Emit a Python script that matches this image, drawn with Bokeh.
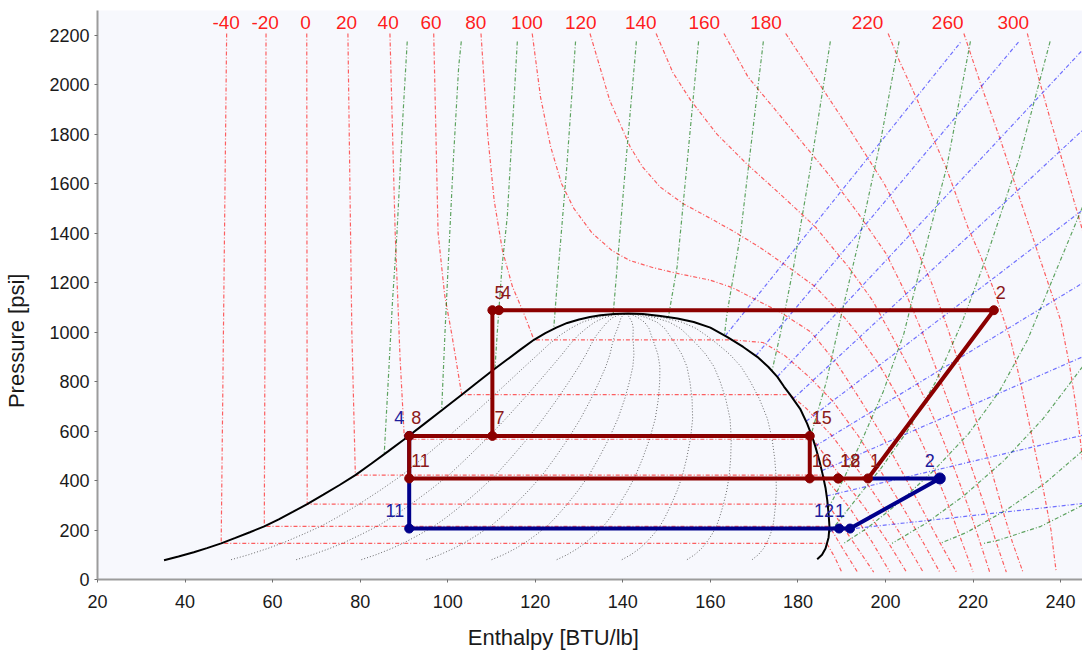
import numpy as np
from bokeh.plotting import figure
from bokeh.models import Range1d, FixedTicker
from bokeh.core.properties import value
from bokeh.embed import file_html
from bokeh.resources import INLINE

FONT = "Liberation Sans"
NBSP = "\u00a0"

# ---- axes ---------------------------------------------------------------
x_ticks = [20, 40, 60, 80, 100, 120, 140, 160, 180, 200, 220, 240]
y_ticks = [0, 200, 400, 600, 800, 1000, 1200, 1400, 1600, 1800, 2000, 2200]

# ---- saturation dome (h in BTU/lb, p in psi) ----------------------------
sat_liq_h = [35.2, 38.5, 42.0, 45.0, 48.25, 51.5, 54.8, 58.1, 61.4, 64.6, 67.9, 71.6,
             75.3, 78.9, 82.6, 86.3, 90.1, 94.5, 98.8, 103.2, 106.8, 110.3, 113.5,
             116.6, 119.7, 122.3, 124.8, 127.3, 130.0, 132.5, 134.9, 138.0, 141.2]
sat_liq_p = [78, 93, 110, 127, 146, 168, 191, 215, 243, 273, 305, 343,
             382, 422, 469, 517, 567, 627, 686, 747, 797, 846, 888,
             929, 969, 996, 1018, 1037, 1051, 1061, 1068, 1073, 1075]
sat_vap_h = [141.2, 144.6, 148.6, 152.5, 156.2, 160.0, 163.9, 167.5, 170.7, 173.2, 175.3,
             176.8, 178.2, 180.5, 182.1, 183.2, 184.0, 184.9, 185.6, 186.3, 186.7, 187.0,
             187.2, 187.0, 186.3, 185.5, 184.4]
sat_vap_p = [1075, 1073, 1065, 1055, 1041, 1018, 980, 940, 900, 860, 819,
             780, 747, 690, 630, 580, 536, 480, 428, 370, 320, 265,
             213, 170, 125, 100, 82]

# vapour quality lines
qualities = [0.1, 0.2, 0.3, 0.4, 0.5, 0.6, 0.7, 0.8, 0.9]
quality_p = [80, 100, 125, 150, 180, 215, 250, 300, 360, 420, 490, 570, 650, 730,
             800, 860, 910, 950, 985, 1015, 1040, 1058, 1070, 1075]

# ---- isotherms (deg F) --------------------------------------------------
t_m40_h = [49.5, 48.25, 186.6, 188.4, 190.0]
t_m40_p = [2207, 146, 146, 90, 30]
t_m20_h = [58.5, 58.1, 187.2, 190.4, 193.6]
t_m20_p = [2207, 215, 215, 120, 30]
t_0_h = [67.8, 67.9, 186.8, 192.3, 197.3]
t_0_p = [2207, 305, 305, 160, 30]
t_20_h = [77.2, 78.1, 78.9, 185.7, 191.8, 197.0, 201.0]
t_20_p = [2207, 1000, 422, 422, 290, 150, 30]
t_40_h = [86.8, 88.0, 89.1, 90.1, 183.4, 189.0, 195.3, 200.6, 204.8]
t_40_p = [2207, 1400, 900, 567, 567, 435, 290, 150, 30]
t_60_h = [96.8, 97.8, 99.3, 100.9, 103.2, 178.2, 182.0, 187.8, 194.0, 199.6, 204.6, 208.6]
t_60_p = [2207, 1400, 1150, 994, 747, 747, 690, 580, 435, 290, 150, 30]
t_80_h = [107.6, 109.1, 110.6, 112.5, 114.8, 117.4, 119.7, 164.9, 172.0, 177.0, 182.5,
          188.0, 193.8, 199.0, 204.0, 208.6, 212.4]
t_80_p = [2207, 1803, 1533, 1330, 1183, 1075, 969, 969, 958, 905, 820,
          720, 580, 435, 290, 150, 30]
t_100_h = [119.3, 121.2, 123.5, 126.0, 128.8, 133.0, 137.5, 141.5, 147.0, 153.0, 160.0,
           165.0, 170.5, 176.0, 183.0, 189.0, 194.3, 199.3, 203.8, 208.2, 212.4, 216.2]
t_100_p = [2207, 1950, 1750, 1600, 1500, 1400, 1330, 1290, 1260, 1235, 1210,
           1180, 1130, 1080, 1000, 870, 725, 580, 435, 290, 150, 30]
t_120_h = [132.5, 137.0, 141.7, 144.5, 148.5, 153.7, 161.0, 166.0, 171.5, 178.0, 184.0,
           190.5, 193.3, 198.5, 203.3, 207.6, 211.3, 214.6, 217.5, 220.0]
t_120_p = [2207, 1937, 1748, 1668, 1587, 1520, 1450, 1400, 1340, 1260, 1183,
           1061, 1000, 870, 725, 580, 435, 290, 150, 30]
t_140_h = [147.6, 151.4, 155.5, 161.5, 168.3, 175.8, 184.0, 191.5, 197.0, 201.0, 205.0,
           209.2, 212.8, 216.0, 219.0, 221.6, 223.8]
t_140_p = [2207, 2050, 1937, 1800, 1680, 1560, 1425, 1264, 1129, 1000, 870,
           725, 580, 435, 290, 150, 30]
t_160_h = [163.1, 168.6, 174.9, 181.2, 187.5, 193.8, 200.1, 204.8, 208.4, 211.2, 214.2,
           217.2, 220.0, 222.8, 225.3, 227.6]
t_160_p = [2207, 2031, 1897, 1762, 1627, 1479, 1318, 1150, 1000, 870, 725,
           580, 435, 290, 150, 30]
t_180_h = [177.2, 185.0, 192.5, 199.7, 205.5, 210.5, 214.5, 216.8, 219.3, 221.8, 224.3,
           226.6, 229.0, 231.4]
t_180_p = [2207, 2000, 1800, 1600, 1400, 1200, 1000, 870, 725, 580, 435, 290, 150, 30]
t_220_h = [200.6, 203.1, 207.3, 211.1, 213.8, 218.8, 221.8, 224.8, 228.6, 230.8, 232.6,
           234.4, 236.2, 237.8, 239.0]
t_220_p = [2207, 2099, 1937, 1775, 1667, 1425, 1304, 1169, 967, 800, 650, 500, 350, 200, 30]
t_260_h = [217.9, 221.7, 226.3, 230.8, 235.4, 240.0, 242.0, 243.3, 244.4, 245.3, 245.9,
           246.3, 246.6]
t_260_p = [2207, 2005, 1775, 1533, 1290, 1048, 870, 725, 580, 435, 290, 150, 30]
t_300_h = [232.4, 234.7, 237.7, 240.8, 243.9, 247.0, 250.5]
t_300_p = [2207, 2045, 1856, 1668, 1479, 1290, 1048]

isotherm_labels = ["-40", "-20", "0", "20", "40", "60", "80", "100", "120", "140",
                   "160", "180", "220", "260", "300"]
isotherm_label_h = [49.4, 58.3, 67.5, 76.9, 86.4, 96.2, 106.4, 118.1, 130.4, 144.1,
                    158.6, 172.7, 195.9, 214.2, 229.2]

# ---- isentropes ----------------------------------------------------------
s1_h = [90.75, 89.8, 88.4, 87.4, 86.4, 85.5]
s1_p = [2175, 1884, 1398, 1129, 800, 509]
s2_h = [103.1, 102.5, 101.3, 100.2, 99.4, 98.6]
s2_p = [2175, 2072, 1700, 1304, 1008, 680]
s3_h = [115.9, 114.7, 113.6, 112.4, 111.3, 110.8]
s3_p = [2175, 1803, 1466, 1264, 994, 855]
s4_h = [129.2, 127.2, 125.3, 124.2]
s4_p = [2175, 1668, 1264, 1012]
s5_h = [143.1, 140.6, 138.7, 137.8]
s5_p = [2175, 1668, 1264, 1074]
s6_h = [157.3, 154.6, 152.4, 150.8, 150.4]
s6_p = [2175, 1668, 1264, 1102, 1060]
s7_h = [172.1, 169.6, 166.9, 163.8, 163.2]
s7_p = [2175, 1803, 1398, 1075, 987]
s8_h = [187.4, 182.9, 179.0, 176.0, 174.1]
s8_p = [2175, 1668, 1264, 994, 845]
s9_h = [203.1, 198.9, 194.3, 189.8, 186.5, 183.0]
s9_p = [2175, 1775, 1398, 1061, 800, 585]
s10_h = [219.4, 214.0, 208.0, 204.2, 199.5, 194.8, 190.8, 187.9, 186.9]
s10_p = [2175, 1668, 1264, 994, 760, 570, 420, 320, 290]
s11_h = [237.6, 230.5, 223.0, 217.5, 211.5, 205.0, 199.0, 193.5, 189.5, 187.2]
s11_p = [2175, 1700, 1300, 1040, 800, 600, 450, 330, 240, 190]
s12_h = [245.0, 232.4, 226.0, 219.0, 211.0, 203.0, 196.0, 190.5]
s12_p = [1506, 967, 760, 590, 440, 310, 210, 146]
s13_h = [245.0, 236.0, 227.0, 218.0, 209.5, 201.5]
s13_p = [860, 650, 480, 340, 230, 146]
s14_h = [245.0, 236.5, 227.5, 218.5, 212.5]
s14_p = [520, 390, 280, 190, 146]
s15_h = [245.0, 235.5, 226.0, 222.5]
s15_p = [300, 215, 160, 146]

# ---- isochores -----------------------------------------------------------
v1_h, v1_p = [163.4, 217.2], [985, 2173]
v2_h, v2_p = [170.4, 230.4], [905, 2173]
v3_h, v3_p = [175.3, 245.0], [820, 2140]
v4_h, v4_p = [178.9, 245.0], [730, 1816]
v5_h, v5_p = [181.9, 245.0], [640, 1493]
v6_h, v6_p = [184.0, 245.0], [540, 1198]
v7_h, v7_p = [185.5, 245.0], [440, 900]
v8_h, v8_p = [186.6, 245.0], [338, 583]
v9_h, v9_p = [187.1, 245.0], [195, 307]

# ---- refrigeration cycles ------------------------------------------------
red_state = ["1", "2", "4", "5", "7", "8", "11", "12", "15", "16", "18"]
red_h = [196.0, 224.75, 111.7, 110.2, 110.2, 91.2, 91.2, 189.2, 182.7, 182.7, 189.2]
red_p = [408.5, 1088.5, 1088.5, 1088.5, 580.4, 580.4, 408.5, 408.5, 580.4, 408.5, 408.5]
red_path = ["7", "5", "2", "1", "18", "16", "11", "8", "7", "15", "16"]
red_label_order = ["5", "4", "2", "1", "18", "12", "16", "15", "7", "8", "11"]

blue_state = ["1", "2", "4", "11", "12"]
blue_h = [191.9, 212.4, 91.2, 91.2, 189.4]
blue_p = [206.0, 408.5, 580.4, 206.0, 206.0]
blue_path = ["4", "11", "12", "1", "2"]

# ---------------------------------------------------------------------------
p = figure(width=1082, height=655, x_range=Range1d(20, 245), y_range=Range1d(0, 2300),
           output_backend="svg", toolbar_location=None,
           min_border_left=97, min_border_right=0, min_border_top=10, min_border_bottom=76,
           background_fill_color="#F7F8FD", border_fill_color="white")
p.outline_line_color = None
p.grid.visible = False
p.xaxis.ticker = FixedTicker(ticks=x_ticks)
p.yaxis.ticker = FixedTicker(ticks=y_ticks)
for ax in (p.xaxis[0], p.yaxis[0]):
    ax.axis_line_color = "#9C9C9C"
    ax.axis_line_width = 2
    ax.major_tick_line_color = "#707070"
    ax.major_tick_out = 3
    ax.major_tick_in = 0
    ax.minor_tick_line_color = None
    ax.major_label_text_font = FONT
    ax.major_label_text_font_size = "18px"
    ax.major_label_text_color = "#1A1A1A"
    ax.axis_label_text_font = FONT
    ax.axis_label_text_font_size = "22px"
    ax.axis_label_text_font_style = "normal"
    ax.axis_label_text_color = "#1A1A1A"
p.yaxis.major_label_standoff = 5
p.xaxis.major_label_standoff = 12

# axis titles; trailing no-break spaces move the visible words off the frame centre
p.xaxis.axis_label = "Enthalpy [BTU/lb]" + NBSP * 12
p.xaxis.axis_label_standoff = 14
p.yaxis.axis_label = "Pressure [psi]" + NBSP * 15
p.yaxis.axis_label_standoff = 17

# quality lines inside the dome
hf = np.interp(quality_p, sat_liq_p, sat_liq_h)
hg = np.interp(quality_p, sat_vap_p[::-1], sat_vap_h[::-1])
q_xs = [list(hf + q * (hg - hf)) for q in qualities]
q_ys = [list(quality_p) for _ in qualities]
p.multi_line(q_xs, q_ys, line_color="#505050", line_alpha=0.85, line_width=1,
             line_dash="1 2")

# isotherms
iso_h = [t_m40_h, t_m20_h, t_0_h, t_20_h, t_40_h, t_60_h, t_80_h, t_100_h, t_120_h,
         t_140_h, t_160_h, t_180_h, t_220_h, t_260_h, t_300_h]
iso_p = [t_m40_p, t_m20_p, t_0_p, t_20_p, t_40_p, t_60_p, t_80_p, t_100_p, t_120_p,
         t_140_p, t_160_p, t_180_p, t_220_p, t_260_p, t_300_p]
p.multi_line(iso_h, iso_p, line_color="#FF0000", line_alpha=0.62, line_width=1.2,
             line_dash="4 2 1 2")

# isentropes
ent_h = [s1_h, s2_h, s3_h, s4_h, s5_h, s6_h, s7_h, s8_h, s9_h, s10_h, s11_h, s12_h,
         s13_h, s14_h, s15_h]
ent_p = [s1_p, s2_p, s3_p, s4_p, s5_p, s6_p, s7_p, s8_p, s9_p, s10_p, s11_p, s12_p,
         s13_p, s14_p, s15_p]
p.multi_line(ent_h, ent_p, line_color="#007000", line_alpha=0.62, line_width=1.2,
             line_dash="4 2 1 2")

# isochores
vol_h = [v1_h, v2_h, v3_h, v4_h, v5_h, v6_h, v7_h, v8_h, v9_h]
vol_p = [v1_p, v2_p, v3_p, v4_p, v5_p, v6_p, v7_p, v8_p, v9_p]
p.multi_line(vol_h, vol_p, line_color="#0000FF", line_alpha=0.55, line_width=1.2,
             line_dash="4 2 1 2")

# saturation dome
p.line(sat_liq_h + sat_vap_h[1:], sat_liq_p + sat_vap_p[1:], line_color="black",
       line_width=2)

# isotherm labels along the top
p.text(isotherm_label_h, [2252] * len(isotherm_labels), text=isotherm_labels,
       text_align="center", text_baseline="middle", text_color="#FF0000",
       text_alpha=0.9, text_font=value(FONT), text_font_size="19px")

# blue (low stage) cycle
b_idx = {s: i for i, s in enumerate(blue_state)}
r_idx = {s: i for i, s in enumerate(red_state)}
bx = [blue_h[b_idx[s]] for s in blue_path] + [red_h[r_idx["1"]]]
by = [blue_p[b_idx[s]] for s in blue_path] + [red_p[r_idx["1"]]]
p.line(bx, by, line_color="#00008B", line_width=4)
p.scatter(blue_h, blue_p, size=[9, 11, 9, 9, 9], color="#00008B")

# red (high stage) cycle
rx = [red_h[r_idx[s]] for s in red_path]
ry = [red_p[r_idx[s]] for s in red_path]
p.line(rx, ry, line_color="#8B0000", line_width=4)
p.scatter(red_h, red_p, size=9, color="#8B0000")

p.text([blue_h[b_idx[s]] for s in blue_state], [blue_p[b_idx[s]] for s in blue_state],
       text=blue_state, text_align="right", text_baseline="middle",
       x_offset=-5, y_offset=-18, text_color="#1C1C9C",
       text_font=value(FONT), text_font_size="18px")
p.text([red_h[r_idx[s]] for s in red_label_order], [red_p[r_idx[s]] for s in red_label_order],
       text=red_label_order, text_align="left", text_baseline="middle",
       x_offset=2, y_offset=-18, text_color="#8B1A1A",
       text_font=value(FONT), text_font_size="18px")

open("out.html", "w").write(file_html(p, INLINE))
